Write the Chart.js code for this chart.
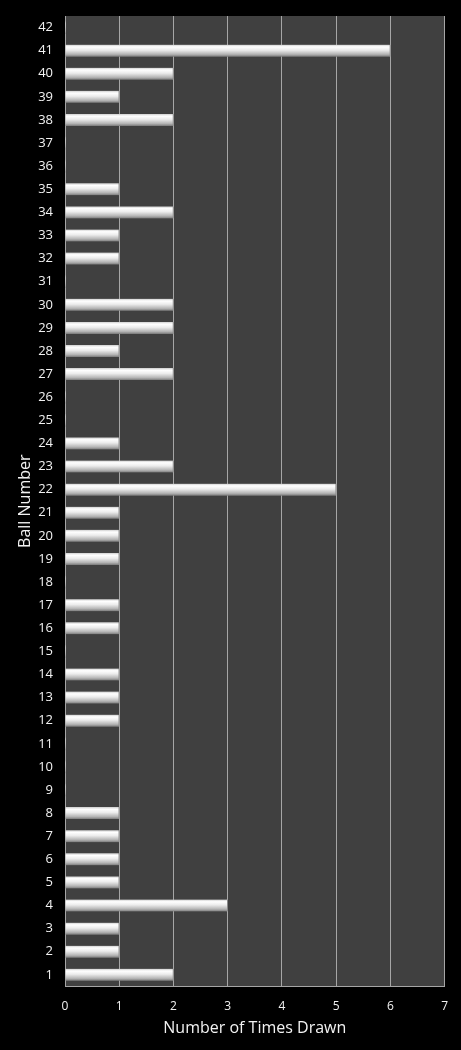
<!DOCTYPE html>
<html>
<head>
<meta charset="utf-8">
<script src="https://cdn.jsdelivr.net/npm/chart.js@4/dist/chart.umd.min.js"></script>
<style>
    html, body { margin: 0; padding: 0; background: #000; }
    #wrap { width: 461px; height: 1050px; }
</style>
</head>
<body>
<div id="wrap"><canvas id="drawChart"></canvas></div>
<script>
// 数据：球号与抽中次数
const ballNumbers = Array.from({ length: 42 }, (_, i) => String(i + 1));
const timesDrawn = [
    2, 1, 1, 3, 1, 1, 1, 1, 0, 0,
    0, 1, 1, 1, 0, 1, 1, 0, 1, 1,
    1, 5, 2, 1, 0, 0, 2, 1, 2, 2,
    0, 1, 1, 2, 1, 0, 0, 2, 1, 2,
    6, 0
];
const xTicks = [0, 1, 2, 3, 4, 5, 6, 7];

const BAR_H = 12;
const FONT = '"Open Sans", "DejaVu Sans", sans-serif';

// 绘图区背景
const plotBg = {
    id: 'plotBg',
    beforeDraw(chart) {
        const { ctx, chartArea: a } = chart;
        ctx.save();
        ctx.fillStyle = '#404040';
        ctx.fillRect(a.left, a.top, a.right - a.left, a.bottom - a.top);
        ctx.restore();
    }
};

// 每根柱子的圆柱渐变
function barGradient(c) {
    const chart = c.chart;
    const y = chart.scales && chart.scales.y;
    if (!y || c.dataIndex === undefined) return '#e0e0e0';
    const py = y.getPixelForValue(c.dataIndex);
    if (!Number.isFinite(py)) return '#e0e0e0';
    const g = chart.ctx.createLinearGradient(0, py - BAR_H / 2, 0, py + BAR_H / 2);
    g.addColorStop(0, '#cfcfcf');
    g.addColorStop(0.18, '#ffffff');
    g.addColorStop(0.45, '#ececec');
    g.addColorStop(0.8, '#b4b4b4');
    g.addColorStop(1, '#7a7a7a');
    return g;
}

new Chart(document.getElementById('drawChart'), {
    type: 'bar',
    data: {
        labels: ballNumbers,
        datasets: [{
            data: timesDrawn,
            backgroundColor: barGradient,
            borderColor: '#8a8a8a',
            borderWidth: { right: 1, top: 0, bottom: 0, left: 0 },
            borderSkipped: 'start',
            barThickness: BAR_H
        }]
    },
    options: {
        indexAxis: 'y',
        responsive: true,
        maintainAspectRatio: false,
        animation: false,
        layout: { padding: { top: 16, right: 16, bottom: 12, left: 16 } },
        plugins: {
            legend: { display: false },
            tooltip: { enabled: false }
        },
        scales: {
            x: {
                min: 0,
                max: 7,
                afterBuildTicks: axis => { axis.ticks = xTicks.map(v => ({ value: v })); },
                grid: { color: '#a6a6a6', lineWidth: 1, drawTicks: false },
                border: { color: '#a6a6a6' },
                ticks: { color: '#f2f2f2', font: { family: FONT, size: 12 }, padding: 13 },
                title: {
                    display: true,
                    text: 'Number of Times Drawn',
                    color: '#f2f2f2',
                    font: { family: FONT, size: 16 },
                    padding: { top: -8, bottom: 0 }
                }
            },
            y: {
                reverse: true,
                afterFit: axis => {
                    axis.width = 49;
                    axis.paddingTop = 0;
                    axis.paddingBottom = 0;
                },
                grid: { display: false, drawTicks: false },
                border: { display: false },
                ticks: { color: '#f2f2f2', font: { family: FONT, size: 13 }, padding: 12, autoSkip: false },
                title: {
                    display: true,
                    text: 'Ball Number',
                    color: '#f2f2f2',
                    font: { family: FONT, size: 16 },
                    padding: { top: 0, bottom: 2 }
                }
            }
        }
    },
    plugins: [plotBg]
});
</script>
</body>
</html>
